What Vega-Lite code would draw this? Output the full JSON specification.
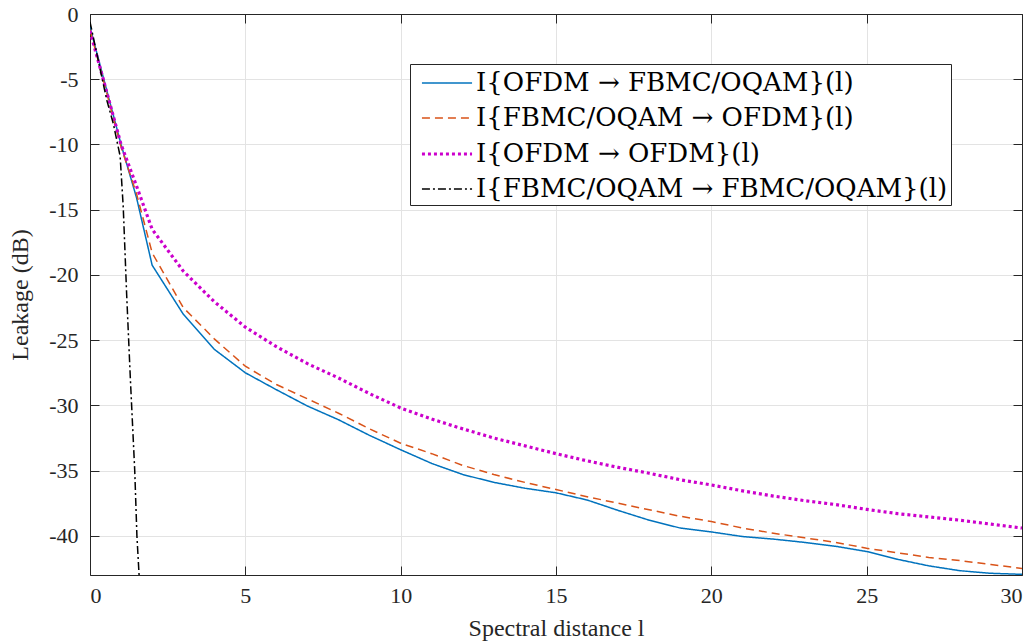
{
  "$schema": "https://vega.github.io/schema/vega-lite/v6.json",
  "width": 932,
  "height": 561,
  "autosize": {"type": "none"},
  "padding": {"left": 90, "top": 14, "right": 11, "bottom": 68},
  "background": "white",
  "config": {
    "view": {"stroke": null},
    "font": "Liberation Serif",
    "axis": {
      "domainColor": "#262626",
      "domainWidth": 1,
      "tickColor": "#262626",
      "tickSize": -9,
      "tickWidth": 1,
      "labelColor": "#262626",
      "labelFont": "Liberation Serif",
      "labelFontSize": 22,
      "titleFont": "Liberation Serif",
      "titleFontSize": 24,
      "titleFontWeight": "normal",
      "titleColor": "#262626",
      "gridColor": "#e3e3e3",
      "gridWidth": 1
    },
    "legend": {
      "labelFont": "DejaVu Serif",
      "labelFontSize": 26,
      "labelColor": "#000000",
      "labelLimit": 700,
      "symbolType": "M-1.67,0H1.67",
      "symbolSize": 900,
      "symbolOffset": 17,
      "rowPadding": 6,
      "padding": 3,
      "strokeColor": "#262626",
      "fillColor": "white",
      "labelOffset": 12
    }
  },
  "data": {
    "values": [
      {"l": 0, "v": -1.0, "s": "A"}, {"l": 1, "v": -10.0, "s": "A"}, {"l": 1.5, "v": -14.1, "s": "A"}, {"l": 2, "v": -19.25, "s": "A"},
      {"l": 3, "v": -23.0, "s": "A"}, {"l": 4, "v": -25.7, "s": "A"}, {"l": 5, "v": -27.5, "s": "A"}, {"l": 6, "v": -28.8, "s": "A"},
      {"l": 7, "v": -30.05, "s": "A"}, {"l": 8, "v": -31.1, "s": "A"}, {"l": 9, "v": -32.3, "s": "A"}, {"l": 10, "v": -33.4, "s": "A"},
      {"l": 11, "v": -34.45, "s": "A"}, {"l": 12, "v": -35.3, "s": "A"}, {"l": 13, "v": -35.9, "s": "A"}, {"l": 14, "v": -36.35, "s": "A"},
      {"l": 15, "v": -36.7, "s": "A"}, {"l": 16, "v": -37.25, "s": "A"}, {"l": 17, "v": -38.05, "s": "A"}, {"l": 18, "v": -38.8, "s": "A"},
      {"l": 19, "v": -39.4, "s": "A"}, {"l": 20, "v": -39.7, "s": "A"}, {"l": 21, "v": -40.05, "s": "A"}, {"l": 22, "v": -40.25, "s": "A"},
      {"l": 23, "v": -40.5, "s": "A"}, {"l": 24, "v": -40.8, "s": "A"}, {"l": 25, "v": -41.2, "s": "A"}, {"l": 26, "v": -41.8, "s": "A"},
      {"l": 27, "v": -42.3, "s": "A"}, {"l": 28, "v": -42.67, "s": "A"}, {"l": 29, "v": -42.87, "s": "A"}, {"l": 30, "v": -42.95, "s": "A"},

      {"l": 0, "v": -1.2, "s": "B"}, {"l": 1, "v": -10.2, "s": "B"}, {"l": 1.5, "v": -13.8, "s": "B"}, {"l": 2, "v": -18.3, "s": "B"},
      {"l": 3, "v": -22.5, "s": "B"}, {"l": 4, "v": -24.9, "s": "B"}, {"l": 5, "v": -27.0, "s": "B"}, {"l": 6, "v": -28.4, "s": "B"},
      {"l": 7, "v": -29.5, "s": "B"}, {"l": 8, "v": -30.6, "s": "B"}, {"l": 9, "v": -31.8, "s": "B"}, {"l": 10, "v": -32.9, "s": "B"},
      {"l": 11, "v": -33.7, "s": "B"}, {"l": 12, "v": -34.6, "s": "B"}, {"l": 13, "v": -35.3, "s": "B"}, {"l": 14, "v": -35.9, "s": "B"},
      {"l": 15, "v": -36.45, "s": "B"}, {"l": 16, "v": -37.0, "s": "B"}, {"l": 17, "v": -37.5, "s": "B"}, {"l": 18, "v": -38.0, "s": "B"},
      {"l": 19, "v": -38.5, "s": "B"}, {"l": 20, "v": -38.9, "s": "B"}, {"l": 21, "v": -39.4, "s": "B"}, {"l": 22, "v": -39.8, "s": "B"},
      {"l": 23, "v": -40.15, "s": "B"}, {"l": 24, "v": -40.5, "s": "B"}, {"l": 25, "v": -40.95, "s": "B"}, {"l": 26, "v": -41.3, "s": "B"},
      {"l": 27, "v": -41.65, "s": "B"}, {"l": 28, "v": -41.9, "s": "B"}, {"l": 29, "v": -42.2, "s": "B"}, {"l": 30, "v": -42.5, "s": "B"},

      {"l": 0, "v": -1.3, "s": "C"}, {"l": 1, "v": -10.0, "s": "C"}, {"l": 1.5, "v": -13.2, "s": "C"}, {"l": 2, "v": -16.5, "s": "C"},
      {"l": 3, "v": -19.7, "s": "C"}, {"l": 4, "v": -22.05, "s": "C"}, {"l": 5, "v": -24.0, "s": "C"}, {"l": 6, "v": -25.5, "s": "C"},
      {"l": 7, "v": -26.8, "s": "C"}, {"l": 8, "v": -27.9, "s": "C"}, {"l": 9, "v": -29.1, "s": "C"}, {"l": 10, "v": -30.2, "s": "C"},
      {"l": 11, "v": -31.05, "s": "C"}, {"l": 12, "v": -31.8, "s": "C"}, {"l": 13, "v": -32.5, "s": "C"}, {"l": 14, "v": -33.1, "s": "C"},
      {"l": 15, "v": -33.7, "s": "C"}, {"l": 16, "v": -34.25, "s": "C"}, {"l": 17, "v": -34.75, "s": "C"}, {"l": 18, "v": -35.2, "s": "C"},
      {"l": 19, "v": -35.7, "s": "C"}, {"l": 20, "v": -36.1, "s": "C"}, {"l": 21, "v": -36.55, "s": "C"}, {"l": 22, "v": -36.95, "s": "C"},
      {"l": 23, "v": -37.3, "s": "C"}, {"l": 24, "v": -37.6, "s": "C"}, {"l": 25, "v": -37.97, "s": "C"}, {"l": 26, "v": -38.3, "s": "C"},
      {"l": 27, "v": -38.55, "s": "C"}, {"l": 28, "v": -38.8, "s": "C"}, {"l": 29, "v": -39.1, "s": "C"}, {"l": 30, "v": -39.4, "s": "C"},

      {"l": 0, "v": -0.6, "s": "D"}, {"l": 0.54, "v": -6.6, "s": "D"}, {"l": 0.75, "v": -8.4, "s": "D"}, {"l": 0.97, "v": -10.9, "s": "D"},
      {"l": 1.07, "v": -14.8, "s": "D"}, {"l": 1.18, "v": -21.5, "s": "D"}, {"l": 1.3, "v": -28.0, "s": "D"}, {"l": 1.44, "v": -35.0, "s": "D"},
      {"l": 1.51, "v": -40.0, "s": "D"}, {"l": 1.58, "v": -43.0, "s": "D"}
    ]
  },
  "layer": [
    {
      "mark": {"type": "line", "clip": true, "strokeCap": "butt"},
      "encoding": {
        "x": {
          "field": "l", "type": "quantitative",
          "scale": {"domain": [0, 30], "nice": false, "zero": false},
          "axis": {"orient": "bottom", "values": [0, 5, 10, 15, 20, 25, 30], "title": "Spectral distance l", "labelPadding": 19, "titlePadding": 10, "grid": true}
        },
        "y": {
          "field": "v", "type": "quantitative",
          "scale": {"domain": [-43, 0], "nice": false, "zero": false},
          "axis": {"orient": "left", "values": [0, -5, -10, -15, -20, -25, -30, -35, -40], "labelExpr": "'' + datum.value", "title": "Leakage (dB)", "labelPadding": 21, "titlePadding": 16, "grid": true}
        },
        "color": {
          "field": "s", "type": "nominal",
          "scale": {"domain": ["A", "B", "C", "D"], "range": ["#0072BD", "#D95319", "#CC00CC", "#000000"]},
          "legend": {"title": null, "orient": "none", "legendX": 320, "legendY": 50,
            "labelExpr": "datum.label == 'A' ? 'I{OFDM → FBMC/OQAM}(l)' : datum.label == 'B' ? 'I{FBMC/OQAM → OFDM}(l)' : datum.label == 'C' ? 'I{OFDM → OFDM}(l)' : 'I{FBMC/OQAM → FBMC/OQAM}(l)'"}
        },
        "strokeDash": {
          "field": "s", "type": "nominal",
          "scale": {"domain": ["A", "B", "C", "D"], "range": [[1, 0], [8, 5], [3, 3], [8, 3, 2, 3]]},
          "legend": {"title": null, "orient": "none", "legendX": 320, "legendY": 50,
            "labelExpr": "datum.label == 'A' ? 'I{OFDM → FBMC/OQAM}(l)' : datum.label == 'B' ? 'I{FBMC/OQAM → OFDM}(l)' : datum.label == 'C' ? 'I{OFDM → OFDM}(l)' : 'I{FBMC/OQAM → FBMC/OQAM}(l)'"}
        },
        "strokeWidth": {
          "field": "s", "type": "ordinal",
          "scale": {"type": "ordinal", "domain": ["A", "B", "C", "D"], "range": [1.5, 1.5, 3.2, 1.5]},
          "legend": {"title": null, "orient": "none", "legendX": 320, "legendY": 50,
            "labelExpr": "datum.label == 'A' ? 'I{OFDM → FBMC/OQAM}(l)' : datum.label == 'B' ? 'I{FBMC/OQAM → OFDM}(l)' : datum.label == 'C' ? 'I{OFDM → OFDM}(l)' : 'I{FBMC/OQAM → FBMC/OQAM}(l)'"}
        }
      }
    },
    {
      "mark": {"type": "line", "opacity": 0},
      "encoding": {
        "x": {
          "field": "l", "type": "quantitative",
          "scale": {"domain": [0, 30], "nice": false, "zero": false},
          "axis": {"orient": "top", "values": [0, 5, 10, 15, 20, 25, 30], "labels": false, "title": null, "grid": false}
        },
        "y": {
          "field": "v", "type": "quantitative",
          "scale": {"domain": [-43, 0], "nice": false, "zero": false},
          "axis": {"orient": "right", "values": [0, -5, -10, -15, -20, -25, -30, -35, -40], "labels": false, "title": null, "grid": false}
        },
        "detail": {"field": "s", "type": "nominal"}
      }
    }
  ],
  "resolve": {"scale": {"x": "independent", "y": "independent"}}
}
